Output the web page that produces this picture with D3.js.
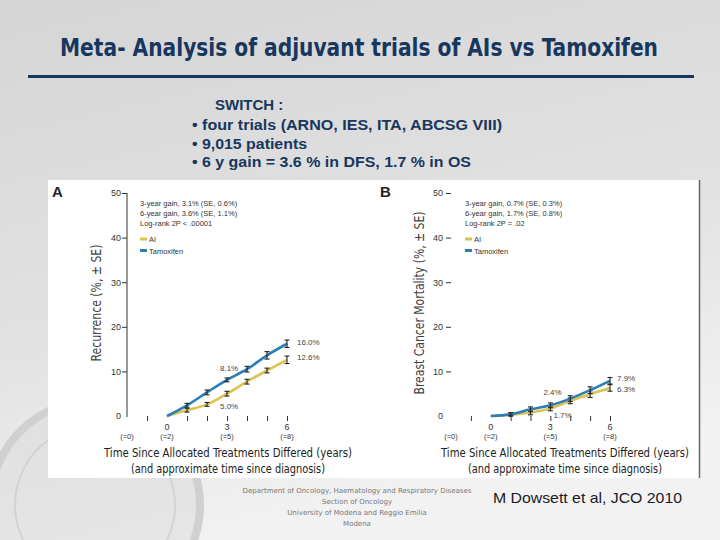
<!DOCTYPE html>
<html>
<head>
<meta charset="utf-8">
<script src="https://cdn.jsdelivr.net/npm/d3@7"></script>
<style>
  body { margin: 0; }
  svg { display: block; }
</style>
</head>
<body>
<script>
// data
const years = [0, 1, 2, 3, 4, 5, 6];
const tickYears = [-1, 1, 2, 3, 4, 5, 6];
const yTicks = [0, 10, 20, 30, 40, 50];
const yearLabels = ["0", "3", "6"];
const yearLabelPos = [0, 3, 6];
const diagLabels = ["(=0)", "(=2)", "(=5)", "(=8)"];
const diagLabelPos = [-2, 0, 3, 6];

const recurAI = [0, 1.3, 2.6, 5.0, 7.7, 10.2, 12.6];
const recurAIse = [0, 0.3, 0.3, 0.4, 0.4, 0.4, 0.7];
const recurTam = [0, 2.4, 5.3, 8.1, 10.5, 13.6, 16.2];
const recurTamSe = [0, 0.3, 0.4, 0.3, 0.5, 0.7, 0.7];

const mortAI = [0, 0.3, 0.8, 1.7, 3.4, 4.9, 6.3];
const mortAIse = [0, 0.2, 0.4, 0.4, 0.5, 0.6, 0.6];
const mortTam = [0, 0.4, 1.5, 2.4, 3.9, 5.8, 7.9];
const mortTamSe = [0, 0.2, 0.4, 0.4, 0.5, 0.6, 0.6];

const bullets = [
  "\u2022 four trials (ARNO, IES, ITA, ABCSG VIII)",
  "\u2022 9,015 patients",
  "\u2022 6 y gain = 3.6 % in DFS, 1.7 % in OS"
];
const statsA = ["3-year gain, 3.1% (SE, 0.6%)", "6-year gain, 3.6% (SE, 1.1%)", "Log-rank 2P < .00001"];
const statsB = ["3-year gain, 0.7% (SE, 0.3%)", "6-year gain, 1.7% (SE, 0.8%)", "Log-rank 2P = .02"];
const seriesNames = ["AI", "Tamoxifen"];
const credits = [
  "Department of Oncology, Haematology and Respiratory Diseases",
  "Section of Oncology",
  "University of Modena and Reggio Emilia",
  "Modena"
];

const navy = "#17375e";
const blue = "#2b7db5";
const gold = "#dcc252";
const narrow = "'Liberation Sans Narrow', 'Arial Narrow', 'DejaVu Sans Condensed', sans-serif";
const sans = "'Liberation Sans', Arial, sans-serif";

const svg = d3.select("body")
  .append("svg")
  .attr("width", 720)
  .attr("height", 540);

const defs = svg.append("defs");
const bg = defs.append("linearGradient")
  .attr("id", "bg")
  .attr("x1", 0).attr("y1", 0).attr("x2", 0.3).attr("y2", 1);
bg.append("stop").attr("offset", "0%").attr("stop-color", "#d5d5d5");
bg.append("stop").attr("offset", "60%").attr("stop-color", "#e2e2e2");
bg.append("stop").attr("offset", "100%").attr("stop-color", "#f2f2f2");

svg.append("rect")
  .attr("width", 720)
  .attr("height", 540)
  .attr("fill", "url(#bg)");

// faint seal in the corner
svg.append("circle")
  .attr("cx", 95).attr("cy", 505).attr("r", 105)
  .attr("fill", "#d9d9d9").attr("fill-opacity", 0.5)
  .attr("stroke", "#d0d0d0").attr("stroke-width", 8);
svg.append("circle")
  .attr("cx", 95).attr("cy", 505).attr("r", 80)
  .attr("fill", "none")
  .attr("stroke", "#d3d3d3").attr("stroke-width", 2);

// title
svg.append("text")
  .attr("x", 60).attr("y", 56)
  .attr("textLength", 598)
  .attr("lengthAdjust", "spacingAndGlyphs")
  .attr("font-family", narrow)
  .attr("font-weight", "bold")
  .attr("font-size", 24)
  .attr("fill", navy)
  .text("Meta- Analysis of adjuvant trials of AIs vs Tamoxifen");

svg.append("rect")
  .attr("x", 28).attr("y", 75)
  .attr("width", 666).attr("height", 3)
  .attr("fill", navy);

svg.append("text")
  .attr("x", 215).attr("y", 110)
  .attr("font-family", sans)
  .attr("font-weight", "bold")
  .attr("font-size", 15)
  .attr("fill", navy)
  .text("SWITCH :");

const bulletWidths = [310, 115, 279];
svg.selectAll(".bullet")
  .data(bullets)
  .enter()
  .append("text")
  .attr("class", "bullet")
  .attr("x", 192)
  .attr("y", function (d, i) { return 130 + i * 18.7; })
  .attr("textLength", function (d, i) { return bulletWidths[i]; })
  .attr("lengthAdjust", "spacingAndGlyphs")
  .attr("font-family", sans)
  .attr("font-weight", "bold")
  .attr("font-size", 14.5)
  .attr("fill", navy)
  .text(function (d) { return d; });

// white figure area
svg.append("rect")
  .attr("x", 48).attr("y", 180)
  .attr("width", 651).attr("height", 298)
  .attr("fill", "#ffffff");
svg.append("line")
  .attr("x1", 699.5).attr("x2", 699.5)
  .attr("y1", 180).attr("y2", 478)
  .attr("stroke", "#666").attr("stroke-width", 1.5);

const y = d3.scaleLinear().domain([0, 50]).range([416, 193]);

function drawPanel(opt) {
  const g = svg.append("g");
  const x = d3.scaleLinear().domain([-2, 6]).range(opt.range);

  g.append("text")
    .attr("x", opt.letterX).attr("y", 197)
    .attr("font-family", sans)
    .attr("font-weight", "bold")
    .attr("font-size", 15)
    .attr("fill", "#222")
    .text(opt.letter);

  // y axis
  const yAxis = g.append("g")
    .attr("transform", "translate(" + x(-2) + ",0)")
    .call(d3.axisLeft(y).tickValues(yTicks).tickSize(5).tickPadding(opt.padY));
  yAxis.selectAll("text")
    .attr("font-family", sans)
    .attr("font-size", 9)
    .attr("fill", "#333");
  yAxis.selectAll(".tick line").attr("stroke", "#333");
  yAxis.selectAll(".tick")
    .filter(function (d) { return d === 0; })
    .select("line").remove();
  yAxis.select(".domain")
    .attr("d", opt.axisLine ? "M0," + y(50) + "V" + (y(0) + 1) : null)
    .attr("stroke", "#333");

  // x axis ticks
  const xAxis = g.append("g")
    .attr("transform", "translate(0," + y(0) + ")")
    .call(d3.axisBottom(x).tickValues(tickYears).tickSize(5).tickFormat(""));
  xAxis.select(".domain").remove();
  xAxis.selectAll(".tick line").attr("stroke", "#333");

  g.selectAll(".yr")
    .data(yearLabelPos)
    .enter()
    .append("text")
    .attr("x", function (d) { return x(d); })
    .attr("y", 430)
    .attr("text-anchor", "middle")
    .attr("font-family", sans)
    .attr("font-size", 9)
    .attr("fill", "#333")
    .text(function (d, i) { return yearLabels[i]; });

  g.selectAll(".dg")
    .data(diagLabelPos)
    .enter()
    .append("text")
    .attr("x", function (d) { return x(d); })
    .attr("y", 439)
    .attr("text-anchor", "middle")
    .attr("font-family", sans)
    .attr("font-size", 7.5)
    .attr("fill", "#333")
    .text(function (d, i) { return diagLabels[i]; });

  // axis titles
  g.append("text")
    .attr("x", opt.titleX).attr("y", 457)
    .attr("text-anchor", "middle")
    .attr("textLength", 248)
    .attr("lengthAdjust", "spacingAndGlyphs")
    .attr("font-family", narrow)
    .attr("font-size", 12)
    .attr("fill", "#222")
    .text("Time Since Allocated Treatments Differed (years)");
  g.append("text")
    .attr("x", opt.titleX).attr("y", 473)
    .attr("text-anchor", "middle")
    .attr("textLength", 194)
    .attr("lengthAdjust", "spacingAndGlyphs")
    .attr("font-family", narrow)
    .attr("font-size", 12.5)
    .attr("fill", "#222")
    .text("(and approximate time since diagnosis)");

  g.append("text")
    .attr("transform", "translate(" + opt.yTitleX + ",303) rotate(-90)")
    .attr("text-anchor", "middle")
    .attr("textLength", opt.yTitleLen)
    .attr("lengthAdjust", "spacingAndGlyphs")
    .attr("font-family", narrow)
    .attr("font-size", 14)
    .attr("fill", "#444")
    .text(opt.yTitle);

  // series
  const line = d3.line()
    .x(function (d) { return x(d.year); })
    .y(function (d) { return y(d.value); })
    .curve(d3.curveMonotoneX);

  const series = [
    { name: seriesNames[0], color: gold, values: opt.ai, se: opt.aiSe },
    { name: seriesNames[1], color: blue, values: opt.tam, se: opt.tamSe }
  ];

  series.forEach(function (s) {
    const pts = years.map(function (yr, i) {
      return { year: yr, value: s.values[i], se: s.se[i] };
    });
    g.append("path")
      .datum(pts)
      .attr("d", line)
      .attr("fill", "none")
      .attr("stroke", s.color)
      .attr("stroke-width", 2.6);

    const bars = g.selectAll(null)
      .data(pts.filter(function (d) { return d.year > 0; }))
      .enter()
      .append("g")
      .attr("stroke", "#222")
      .attr("stroke-width", 1.1);
    bars.append("line")
      .attr("x1", function (d) { return x(d.year); })
      .attr("x2", function (d) { return x(d.year); })
      .attr("y1", function (d) { return y(d.value - d.se) + 0.6; })
      .attr("y2", function (d) { return y(d.value + d.se) - 0.6; });
    bars.append("line")
      .attr("x1", function (d) { return x(d.year) - 2.5; })
      .attr("x2", function (d) { return x(d.year) + 2.5; })
      .attr("y1", function (d) { return y(d.value - d.se) + 0.6; })
      .attr("y2", function (d) { return y(d.value - d.se) + 0.6; });
    bars.append("line")
      .attr("x1", function (d) { return x(d.year) - 2.5; })
      .attr("x2", function (d) { return x(d.year) + 2.5; })
      .attr("y1", function (d) { return y(d.value + d.se) - 0.6; })
      .attr("y2", function (d) { return y(d.value + d.se) - 0.6; });
  });

  // value labels
  g.selectAll(".val")
    .data(opt.labels)
    .enter()
    .append("text")
    .attr("x", function (d) { return x(d.year) + d.dx; })
    .attr("y", function (d) { return y(d.value) + d.dy; })
    .attr("font-family", sans)
    .attr("font-size", 8)
    .attr("fill", "#444")
    .text(function (d) { return d.text; });

  // stats + legend
  g.selectAll(".stat")
    .data(opt.stats)
    .enter()
    .append("text")
    .attr("x", opt.legendX)
    .attr("y", function (d, i) { return 206 + i * 10; })
    .attr("font-family", sans)
    .attr("font-size", 7.5)
    .attr("fill", "#333")
    .text(function (d) { return d; });

  const leg = g.selectAll(".leg")
    .data(series)
    .enter()
    .append("g")
    .attr("transform", function (d, i) {
      return "translate(" + opt.legendX + "," + (239 + i * 11.5) + ")";
    });
  leg.append("rect")
    .attr("x", 0).attr("y", -1.5)
    .attr("width", 7).attr("height", 3)
    .attr("fill", function (d) { return d.color; });
  leg.append("text")
    .attr("x", 9).attr("y", 3)
    .attr("font-family", sans)
    .attr("font-size", 7.5)
    .attr("fill", "#333")
    .text(function (d) { return d.name; });
}

drawPanel({
  letter: "A", letterX: 52,
  range: [127, 287],
  padY: 1, axisLine: true,
  titleX: 228,
  yTitle: "Recurrence (%, \u00b1 SE)", yTitleX: 101, yTitleLen: 117,
  ai: recurAI, aiSe: recurAIse, tam: recurTam, tamSe: recurTamSe,
  stats: statsA, legendX: 140,
  labels: [
    { year: 3, value: 8.1, dx: -7, dy: -9, text: "8.1%" },
    { year: 3, value: 5.0, dx: -7, dy: 15, text: "5.0%" },
    { year: 6, value: 16.2, dx: 10, dy: 1, text: "16.0%" },
    { year: 6, value: 12.6, dx: 10, dy: 0, text: "12.6%" }
  ]
});

drawPanel({
  letter: "B", letterX: 380,
  range: [451, 610],
  padY: 3, axisLine: false,
  titleX: 565,
  yTitle: "Breast Cancer Mortality (%, \u00b1 SE)", yTitleX: 424, yTitleLen: 183,
  ai: mortAI, aiSe: mortAIse, tam: mortTam, tamSe: mortTamSe,
  stats: statsB, legendX: 465,
  labels: [
    { year: 3, value: 2.4, dx: -7, dy: -10, text: "2.4%" },
    { year: 3, value: 1.7, dx: 3, dy: 10, text: "1.7%" },
    { year: 6, value: 7.9, dx: 7, dy: 0, text: "7.9%" },
    { year: 6, value: 6.3, dx: 7, dy: 4, text: "6.3%" }
  ]
});

// footer
svg.selectAll(".credit")
  .data(credits)
  .enter()
  .append("text")
  .attr("x", 357)
  .attr("y", function (d, i) { return 493 + i * 11; })
  .attr("text-anchor", "middle")
  .attr("font-family", "'DejaVu Sans', sans-serif")
  .attr("font-size", 7)
  .attr("fill", "#777")
  .text(function (d) { return d; });

svg.append("text")
  .attr("x", 493).attr("y", 503)
  .attr("textLength", 189)
  .attr("lengthAdjust", "spacingAndGlyphs")
  .attr("font-family", sans)
  .attr("font-size", 14.5)
  .attr("fill", "#1a1a2a")
  .text("M Dowsett et al, JCO 2010");
</script>
</body>
</html>
